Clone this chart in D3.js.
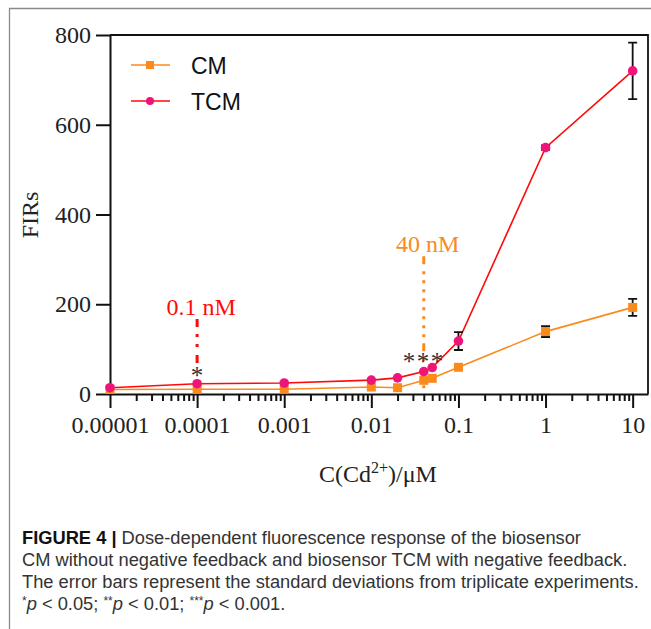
<!DOCTYPE html>
<html>
<head>
<meta charset="utf-8">
<script src="https://cdn.jsdelivr.net/npm/d3@7"></script>
<style>
body { margin: 0; background: #fff; }
svg { display: block; }
.tick text { font-family: "Liberation Serif", "Times New Roman", serif; font-size: 24px; fill: #222; }
</style>
</head>
<body>
<div id="content"></div>
<script>
// Cd2+ concentrations (uM) and FIR readings
var concs = [0.00001, 0.0001, 0.001, 0.01, 0.02, 0.04, 0.05, 0.1, 1, 10];
var cm = [10, 10.5, 10.5, 15.5, 14, 30.5, 35, 59.5, 139, 193];
var cmErr = [0, 0, 0, 0, 0, 0, 0, 0, 12, 19];
var tcm = [14, 23, 24.5, 31, 36, 50, 59, 118, 549, 720];
var tcmErr = [0, 0, 0, 0, 0, 0, 0, 20, 5, 63];

var xTicks = [0.00001, 0.0001, 0.001, 0.01, 0.1, 1, 10];
var xLabels = ["0.00001", "0.0001", "0.001", "0.01", "0.1", "1", "10"];
var yTicks = [0, 200, 400, 600, 800];

// detection-limit marks
var limConc = [0.0001, 0.04];
var limText = ["0.1 nM", "40 nM"];
var limTop = [167, 307];
var limBottom = [60, 7];
var starText = ["*", "***"];
var starVal = [49, 80];

var orange = "#fb8a1d", red = "#ff0a0a", pink = "#ee1479";

var W = 651, H = 629;
var svg = d3.select("#content").append("svg")
	.attr("width", W)
	.attr("height", H);

// outer frame
svg.append("path")
	.attr("d", "M9.5," + H + " L9.5,8.5 L" + W + ",8.5")
	.attr("fill", "none")
	.attr("style", "stroke:#8a8a8a; stroke-width: 1.3px;");

var x = d3.scaleLog().domain([0.00001, 15]).range([110, 648]);
var y = d3.scaleLinear().domain([0, 800]).range([394, 35]);

// top / right border of the plot
svg.append("path")
	.attr("d", "M110," + y(800) + " L648," + y(800) + " L648," + y(0))
	.attr("fill", "none")
	.attr("style", "stroke:#111; stroke-width: 1.8px;");

// minor ticks
var minors = [];
for (var d = -5; d < 1; d++)
	for (var m = 2; m < 10; m++){
		var v = m * Math.pow(10, d);
		if (v < 15) minors.push(v);
	}
svg.append("g")
	.attr("transform", "translate(0," + y(0) + ")")
	.call(d3.axisBottom(x).tickValues(minors).tickSize(7).tickSizeOuter(0).tickFormat(""))
	.call(function(g){ g.select(".domain").remove(); })
	.selectAll("line").attr("stroke", "#111").attr("stroke-width", 2);

var xAxis = svg.append("g")
	.attr("transform", "translate(0," + y(0) + ")")
	.call(d3.axisBottom(x).tickValues(xTicks).tickSize(14).tickSizeOuter(0)
		.tickFormat(function(d, i){ return xLabels[i]; }));
xAxis.select(".domain").attr("stroke", "#111").attr("stroke-width", 2);
xAxis.selectAll(".tick line").attr("stroke", "#111").attr("stroke-width", 2);
xAxis.selectAll(".tick text").attr("y", 22);

var yAxis = svg.append("g")
	.attr("transform", "translate(110,0)")
	.call(d3.axisLeft(y).tickValues(yTicks).tickSize(14).tickSizeOuter(0));
yAxis.select(".domain").attr("stroke", "#111").attr("stroke-width", 2);
yAxis.selectAll(".tick line").attr("stroke", "#111").attr("stroke-width", 2);
yAxis.selectAll(".tick text").attr("x", -19);

// axis titles
svg.append("text")
	.attr("transform", "translate(38,215) rotate(-90)")
	.attr("text-anchor", "middle")
	.attr("style", "font-family: 'Liberation Serif', serif; font-size: 24px; fill: #222;")
	.text("FIRs");

var xt = svg.append("text")
	.attr("x", 378)
	.attr("y", 482)
	.attr("text-anchor", "middle")
	.attr("style", "font-family: 'Liberation Serif', serif; font-size: 24px; fill: #222;");
xt.append("tspan").text("C(Cd");
xt.append("tspan").attr("dy", -9).attr("style", "font-size: 16px;").text("2+");
xt.append("tspan").attr("dy", 9).text(")/\u03bcM");

// detection limit lines
var limColor = [red, orange];
for (var i = 0; i < limConc.length; i++){
	svg.append("line")
		.attr("x1", x(limConc[i]))
		.attr("x2", x(limConc[i]))
		.attr("y1", y(limTop[i]))
		.attr("y2", y(limBottom[i]))
		.attr("style", "stroke:" + limColor[i] + "; stroke-width: 3px;")
		.attr("stroke-dasharray", i == 0 ? "8,7,3,7,3,8" : "8,7,3,6,3,6,3,6,3,6,3,6,3,6,3,6,3,6");
	svg.append("text")
		.attr("x", x(limConc[i]) + 4)
		.attr("y", y(limTop[i]) - 4)
		.attr("text-anchor", "middle")
		.attr("style", "font-family: 'Liberation Serif', serif; font-size: 24px; fill:" + limColor[i] + ";")
		.text(limText[i]);
}

// series lines
var line = d3.line()
	.x(function(d){ return x(d[0]); })
	.y(function(d){ return y(d[1]); });

var series = [
	{name: "CM", vals: cm, err: cmErr, color: orange},
	{name: "TCM", vals: tcm, err: tcmErr, color: red}
];

series.forEach(function(s){
	svg.append("path")
		.datum(concs.map(function(c, j){ return [c, s.vals[j]]; }))
		.attr("d", line)
		.attr("fill", "none")
		.attr("style", "stroke:" + s.color + "; stroke-width: 1.6px;");
});

// error bars
series.forEach(function(s){
	for (var j = 0; j < concs.length; j++){
		if (s.err[j] <= 0) continue;
		var cx = x(concs[j]);
		var y1 = y(s.vals[j] + s.err[j]), y2 = y(s.vals[j] - s.err[j]);
		svg.append("path")
			.attr("d", "M" + cx + "," + y1 + " L" + cx + "," + y2 +
				" M" + (cx - 4.5) + "," + y1 + " L" + (cx + 4.5) + "," + y1 +
				" M" + (cx - 4.5) + "," + y2 + " L" + (cx + 4.5) + "," + y2)
			.attr("style", "stroke:#111; stroke-width: 1.8px; fill: none;");
	}
});

// markers
svg.append("g").selectAll("rect")
	.data(concs.map(function(c, j){ return [c, cm[j]]; }))
	.enter().append("rect")
	.attr("x", function(d){ return x(d[0]) - 4.5; })
	.attr("y", function(d){ return y(d[1]) - 4.5; })
	.attr("width", 9)
	.attr("height", 9)
	.attr("fill", orange);

svg.append("g").selectAll("circle")
	.data(concs.map(function(c, j){ return [c, tcm[j]]; }))
	.enter().append("circle")
	.attr("cx", function(d){ return x(d[0]); })
	.attr("cy", function(d){ return y(d[1]); })
	.attr("r", 4.8)
	.attr("fill", pink);

// significance stars
for (var i = 0; i < limConc.length; i++){
	svg.append("text")
		.attr("x", x(limConc[i]))
		.attr("y", y(starVal[i]) + 12)
		.attr("text-anchor", "middle")
		.attr("letter-spacing", i == 1 ? "1.5px" : "0px")
		.attr("style", "font-family: 'Liberation Serif', serif; font-size: 25px; fill: #2f3140;")
		.text(starText[i]);
}

// legend
series.forEach(function(s, i){
	var ly = 65 + i * 36;
	svg.append("line")
		.attr("x1", 131).attr("x2", 170)
		.attr("y1", ly).attr("y2", ly)
		.attr("style", "stroke:" + s.color + "; stroke-width: 1.6px;");
	if (i == 0)
		svg.append("rect").attr("x", 146).attr("y", ly - 4).attr("width", 8).attr("height", 8).attr("fill", orange);
	else
		svg.append("circle").attr("cx", 150).attr("cy", ly).attr("r", 4).attr("fill", pink);
	svg.append("text")
		.attr("x", 191)
		.attr("y", ly + 9)
		.attr("style", "font-family: 'Liberation Sans', Arial, sans-serif; font-size: 23px; fill: #111;")
		.text(s.name);
});

// caption
var caption = [
	"Dose-dependent fluorescence response of the biosensor",
	"CM without negative feedback and biosensor TCM with negative feedback.",
	"The error bars represent the standard deviations from triplicate experiments."
];
var cap = svg.append("g")
	.attr("style", "font-family: 'Liberation Sans', Arial, sans-serif; font-size: 18.3px; fill: #333;");
var t0 = cap.append("text").attr("x", 22).attr("y", 544);
t0.append("tspan").attr("font-weight", "bold").attr("fill", "#111").text("FIGURE 4 | ");
t0.append("tspan").text(caption[0]);
cap.append("text").attr("x", 22).attr("y", 566).text(caption[1]);
cap.append("text").attr("x", 22).attr("y", 588).text(caption[2]);
var t3 = cap.append("text").attr("x", 22).attr("y", 610);
t3.append("tspan").attr("dy", -5).attr("font-size", "12px").text("*");
t3.append("tspan").attr("dy", 5).attr("font-style", "italic").text("p");
t3.append("tspan").text(" < 0.05; ");
t3.append("tspan").attr("dy", -5).attr("font-size", "12px").text("**");
t3.append("tspan").attr("dy", 5).attr("font-style", "italic").text("p");
t3.append("tspan").text(" < 0.01; ");
t3.append("tspan").attr("dy", -5).attr("font-size", "12px").text("***");
t3.append("tspan").attr("dy", 5).attr("font-style", "italic").text("p");
t3.append("tspan").text(" < 0.001.");
</script>
</body>
</html>
